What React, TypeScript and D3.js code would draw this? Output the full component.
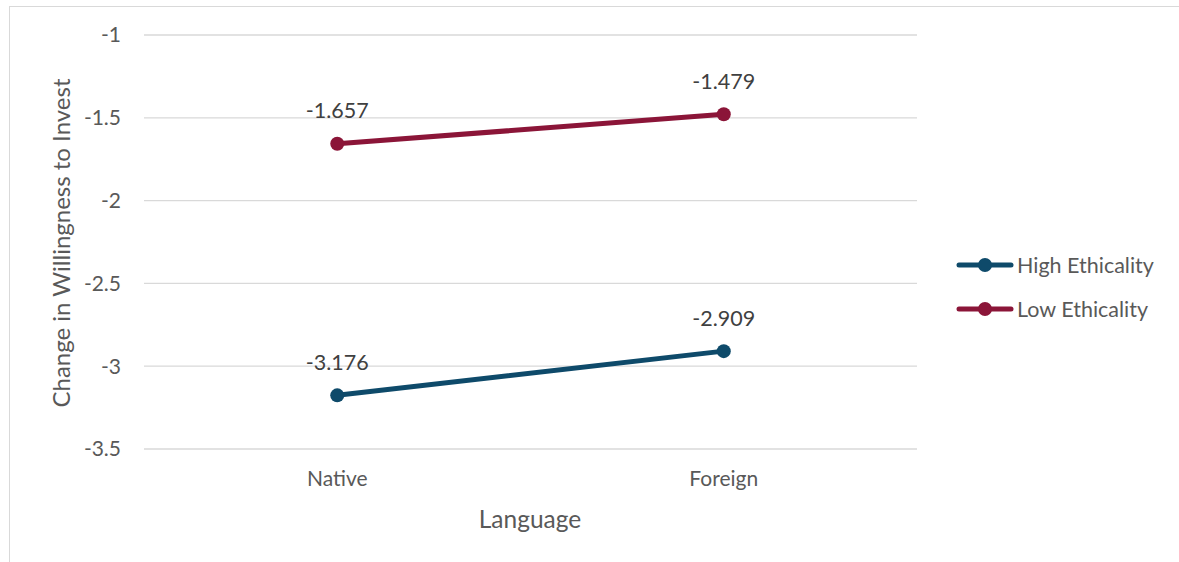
import React from "react";
import * as d3 from "d3";

const categories = ["Native", "Foreign"];
const highEthicality = [-3.176, -2.909];
const lowEthicality = [-1.657, -1.479];
const yTicks = [-1, -1.5, -2, -2.5, -3, -3.5];
const seriesNames = ["High Ethicality", "Low Ethicality"];
const seriesColors = ["#0e4a6a", "#8b1538"];

const W = 1179;
const H = 562;
const FONT = "Lato, 'Open Sans', sans-serif";
const TEXT = "#595959";

export default function App() {
  const x = d3.scaleBand<string>().domain(categories).range([144, 917]);
  const y = d3.scaleLinear().domain([-3.5, -1]).range([449, 35]);
  const line = d3
    .line<number>()
    .x((_, i) => (x(categories[i]) as number) + x.bandwidth() / 2)
    .y((d) => y(d));
  const series = [highEthicality, lowEthicality];

  return (
    <svg
      width={W}
      height={H}
      style={{ position: "absolute", left: 0, top: 0, background: "#fff" }}
      fontFamily={FONT}
    >
      <rect x={9.5} y={6.5} width={W + 10} height={H + 10} fill="#fff" stroke="#d9d9d9" strokeWidth={1} />
      {yTicks.map((t) => (
        <g key={t}>
          <line x1={144} x2={917} y1={y(t)} y2={y(t)} stroke="#d9d9d9" strokeWidth={1.3} />
          <text x={121} y={y(t)} dy="0.35em" textAnchor="end" fontSize={21} fill={TEXT}>
            {t}
          </text>
        </g>
      ))}
      {categories.map((c) => (
        <text
          key={c}
          x={(x(c) as number) + x.bandwidth() / 2}
          y={479}
          dy="0.35em"
          textAnchor="middle"
          fontSize={21}
          fill={TEXT}
        >
          {c}
        </text>
      ))}
      <text x={530} y={519} dy="0.35em" textAnchor="middle" fontSize={24.5} fill={TEXT}>
        Language
      </text>
      <text
        transform={`translate(62,243) rotate(-90)`}
        dy="0.35em"
        textAnchor="middle"
        fontSize={24}
        fill={TEXT}
      >
        Change in Willingness to Invest
      </text>
      {series.map((s, si) => (
        <g key={si}>
          <path d={line(s) as string} fill="none" stroke={seriesColors[si]} strokeWidth={5} strokeLinecap="round" />
          {s.map((v, i) => {
            const cx = (x(categories[i]) as number) + x.bandwidth() / 2;
            return (
              <g key={i}>
                <circle cx={cx} cy={y(v)} r={7} fill={seriesColors[si]} />
                <text x={cx} y={y(v) - 33} dy="0.35em" textAnchor="middle" fontSize={21.5} fill="#404040">
                  {v.toFixed(3)}
                </text>
              </g>
            );
          })}
        </g>
      ))}
      {seriesNames.map((n, i) => {
        const ly = 265 + i * 44;
        return (
          <g key={n}>
            <line x1={959} x2={1011} y1={ly} y2={ly} stroke={seriesColors[i]} strokeWidth={5} strokeLinecap="round" />
            <circle cx={985} cy={ly} r={7} fill={seriesColors[i]} />
            <text x={1017} y={ly} dy="0.35em" fontSize={21.5} fill={TEXT}>
              {n}
            </text>
          </g>
        );
      })}
    </svg>
  );
}
